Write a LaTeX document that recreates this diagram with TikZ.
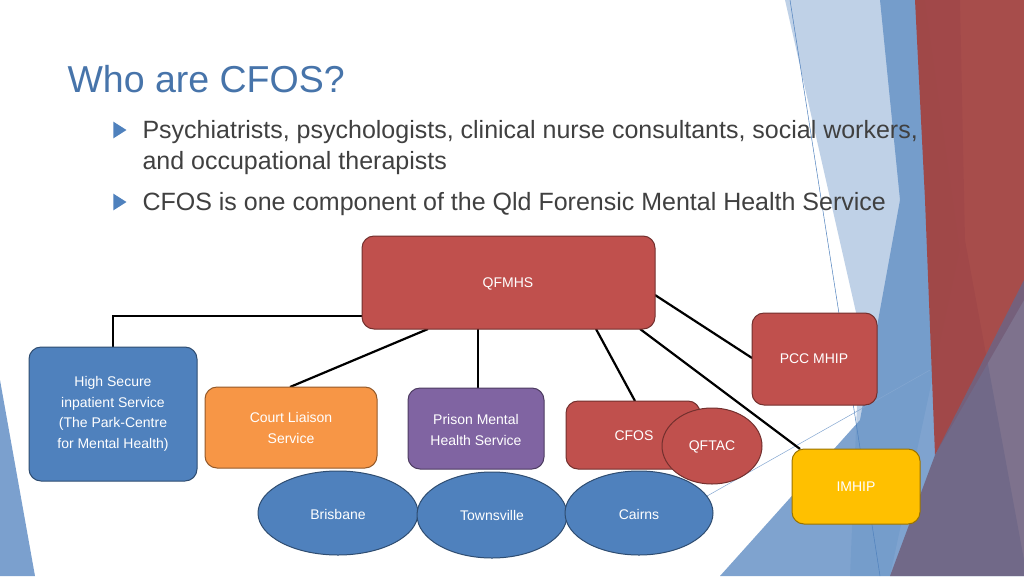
\documentclass[tikz,border=0pt]{standalone}
\usepackage{fontspec}
\setmainfont{Liberation Sans}
\usetikzlibrary{shapes.geometric}
\begin{document}
\begin{tikzpicture}[x=1pt,y=-1pt,
  box/.style={draw=#1!60!black,line width=1pt,fill=#1,rounded corners=12pt},
  ell/.style={draw=#1!60!black,line width=1pt,fill=#1},
  lab/.style={text=white,font=\fontsize{14}{20.5}\selectfont,align=center},
  conn/.style={line width=2.2pt,black},
  bul/.style={anchor=base west,text=black!75,font=\fontsize{25}{30}\selectfont},
  tri/.style={fill=cblue,isosceles triangle,isosceles triangle apex angle=65,inner sep=0pt,minimum height=13pt}]
\definecolor{cred}{HTML}{C0504D}
\definecolor{cblue}{HTML}{4F81BD}
\definecolor{corange}{HTML}{F79646}
\definecolor{cpurple}{HTML}{8064A2}
\definecolor{cgold}{HTML}{FFC000}
\useasboundingbox (0,0) rectangle (1024,576);
\fill[white] (0,0) rectangle (1024,576);
% decoration
\fill[cblue!45,opacity=0.8] (785,0) -- (925,0) -- (960,250) -- (890,576) -- (850,576) -- (860,330) -- cycle;
\fill[cblue!85,opacity=0.85] (880,0) -- (960,0) -- (965,240) -- (1024,560) -- (1024,576) -- (720,576) -- (860,420) -- (900,200) -- cycle;
\fill[cred!85!black,opacity=0.95] (915,0) -- (1024,0) -- (1024,300) -- (935,455) -- (925,200) -- cycle;
\fill[cpurple!60!black!80,opacity=0.9] (1024,280) -- (1024,576) -- (890,576) -- (935,455) -- cycle;
\fill[cblue!75] (0,380) -- (35,576) -- (0,576) -- cycle;
\draw[cblue,line width=0.5pt] (790,0) -- (880,576);
\draw[cblue!70,line width=0.5pt] (700,500) -- (930,370);
% title and bullets
\node[anchor=base west,text=cblue!90!black,font=\fontsize{37.5}{40}\selectfont] (title) at (64,92) {Who are CFOS?};
\node[tri] (b1) at (118,130) {};
\node[bul] (t1) at (139,138) {Psychiatrists, psychologists, clinical nurse consultants, social workers,};
\node[bul] (t1b) at (139,169) {and occupational therapists};
\node[tri] (b2) at (118,202) {};
\node[bul] (t2) at (139,210) {CFOS is one component of the Qld Forensic Mental Health Service};
% connectors
\coordinate (hsTop) at (113,347);
\coordinate (hsCorner) at (113,316);
\coordinate (qL) at (362,316);
\draw[conn] (hsTop) -- (hsCorner) -- (qL);
\coordinate (cl) at (290,387); \coordinate (q1) at (428,329); \draw[conn] (cl) -- (q1);
\coordinate (pm) at (478,388); \coordinate (q2) at (478,329); \draw[conn] (pm) -- (q2);
\coordinate (cf) at (635,401); \coordinate (q3) at (596,329); \draw[conn] (cf) -- (q3);
\coordinate (pc) at (752,358); \coordinate (q4) at (655,295); \draw[conn] (pc) -- (q4);
\coordinate (im) at (800,449); \coordinate (q5) at (640,329); \draw[conn] (im) -- (q5);
% boxes
\draw[box=cred] (362,236) rectangle (655,329);
\node[lab] (qfmhs) at (508,284) {QFMHS};
\draw[box=cred] (752,313) rectangle (877,405);
\node[lab] (pcc) at (814,359) {PCC MHIP};
\draw[box=cblue] (29,347) rectangle (197,481);
\node[lab] (hs) at (113,414) {High Secure\\inpatient Service\\(The Park-Centre\\for Mental Health)};
\draw[box=corange] (205,387) rectangle (377,468);
\node[lab] (court) at (291,428) {Court Liaison\\Service};
\draw[box=cpurple] (408,388) rectangle (544,469);
\node[lab] (prison) at (476,430) {Prison Mental\\Health Service};
\draw[box=cred] (566,401) rectangle (700,469);
\node[lab] (cfos) at (634,436) {CFOS};
\draw[ell=cred] (712,446) ellipse [x radius=50, y radius=38];
\node[lab] (qftac) at (712,447) {QFTAC};
\draw[box=cgold] (792,449) rectangle (920,524);
\node[lab] (imhip) at (856,487) {IMHIP};
\draw[ell=cblue] (338,513) ellipse [x radius=80, y radius=42];
\node[lab] (bris) at (338,514) {Brisbane};
\draw[ell=cblue] (492,515) ellipse [x radius=75, y radius=43];
\node[lab] (town) at (492,515) {Townsville};
\draw[ell=cblue] (639,513) ellipse [x radius=74, y radius=42];
\node[lab] (cairns) at (639,514) {Cairns};
\end{tikzpicture}
\end{document}
